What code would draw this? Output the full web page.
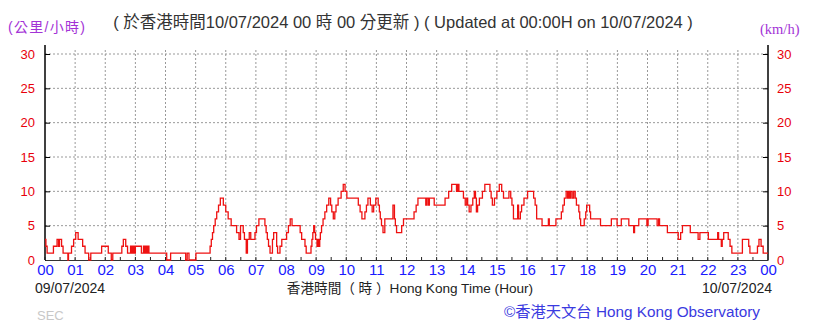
<!DOCTYPE html>
<html>
<head>
<meta charset="utf-8">
<script src="https://cdn.jsdelivr.net/npm/d3@7"></script>
<style>
	body { margin: 0; background: #fff; }
	svg { display: block; font-family: "Liberation Sans", "Noto Sans CJK TC", sans-serif; }
</style>
</head>
<body>
<div id="chart"></div>
<script>
//////////////////////////// data /////////////////////////////////////////

// hours since 00:00 on 09/07/2024, when the mean wind changed
const hours = [
	0.00, 0.03, 0.07, 0.28, 0.40, 0.45, 0.48, 0.55, 0.60, 0.76, 0.78, 0.88, 0.95, 1.02, 1.10, 1.25, 1.33, 1.45, 1.52, 1.88,
	2.10, 2.20, 2.25, 2.55, 2.60, 2.68, 2.74, 2.84, 2.88, 2.92, 2.96, 3.00, 3.20, 3.27, 3.29, 3.33, 3.35, 3.38, 3.40, 3.43,
	3.45, 4.04, 4.17, 4.67, 4.72, 4.78, 5.01, 5.48, 5.52, 5.56, 5.60, 5.65, 5.70, 5.76, 5.82, 5.92, 6.00, 6.08, 6.18, 6.36,
	6.44, 6.49, 6.58, 6.62, 6.68, 6.72, 6.78, 6.83, 6.97, 7.02, 7.10, 7.30, 7.34, 7.38, 7.42, 7.47, 7.55, 7.59, 7.69, 7.72,
	7.80, 7.86, 8.02, 8.08, 8.14, 8.20, 8.47, 8.52, 8.63, 8.67, 8.83, 8.86, 8.89, 8.92, 8.95, 8.98, 9.03, 9.06, 9.09, 9.12,
	9.14, 9.18, 9.23, 9.29, 9.35, 9.42, 9.48, 9.52, 9.57, 9.62, 9.66, 9.73, 9.83, 9.90, 9.96, 10.02, 10.40, 10.46, 10.52, 10.62,
	10.67, 10.72, 10.80, 10.86, 10.91, 10.98, 11.06, 11.10, 11.13, 11.17, 11.22, 11.28, 11.55, 11.60, 11.63, 11.67, 11.84, 11.90, 12.25, 12.32,
	12.38, 12.64, 12.67, 12.72, 12.76, 12.92, 13.28, 13.40, 13.50, 13.66, 13.70, 13.74, 13.89, 13.95, 14.00, 14.03, 14.08, 14.14, 14.20, 14.25,
	14.29, 14.32, 14.36, 14.42, 14.52, 14.60, 14.77, 14.81, 14.85, 14.92, 15.00, 15.08, 15.16, 15.22, 15.40, 15.46, 15.50, 15.55, 15.69, 15.72,
	15.78, 15.82, 15.90, 16.02, 16.22, 16.27, 16.32, 16.50, 16.71, 16.74, 16.96, 17.14, 17.19, 17.24, 17.30, 17.35, 17.38, 17.42, 17.45, 17.50,
	17.55, 17.60, 17.64, 17.72, 17.75, 17.78, 17.90, 17.95, 17.98, 18.08, 18.11, 18.44, 18.80, 18.99, 19.13, 19.38, 19.54, 19.57, 19.71, 19.98,
	20.02, 20.32, 20.37, 20.40, 20.66, 21.02, 21.10, 21.16, 21.42, 21.68, 21.74, 22.02, 22.33, 22.36, 22.45, 22.48, 22.53, 22.68, 22.74, 22.80,
	23.15, 23.36, 23.40, 23.65, 23.70, 23.77, 23.84, 24.00
];

// 10-minute mean wind speed (km/h)
const speeds = [
	3, 2, 1, 2, 3, 2, 3, 2, 1, 0, 1, 2, 3, 4, 3, 2, 1, 0, 1, 2,
	1, 0, 1, 2, 3, 2, 1, 2, 1, 2, 1, 2, 1, 2, 1, 2, 1, 2, 1, 2,
	1, 0, 1, 0, 1, 0, 1, 2, 3, 4, 5, 6, 7, 8, 9, 8, 7, 6, 5, 4,
	3, 5, 4, 3, 1, 3, 4, 3, 4, 5, 6, 5, 4, 3, 2, 1, 3, 4, 2, 1,
	2, 3, 4, 5, 6, 5, 4, 3, 2, 1, 2, 3, 4, 5, 4, 3, 2, 3, 2, 3,
	4, 5, 6, 7, 8, 9, 8, 7, 6, 7, 8, 9, 10, 11, 10, 9, 8, 7, 6, 7,
	8, 9, 8, 7, 8, 9, 8, 7, 6, 5, 4, 6, 8, 6, 5, 4, 5, 6, 7, 8,
	9, 8, 9, 8, 9, 8, 9, 10, 11, 10, 11, 10, 9, 8, 9, 8, 7, 8, 9, 10,
	9, 7, 8, 9, 10, 11, 10, 9, 8, 9, 10, 11, 10, 9, 10, 9, 8, 6, 8, 6,
	7, 8, 9, 10, 9, 8, 6, 5, 6, 5, 6, 7, 8, 9, 10, 9, 10, 9, 10, 9,
	10, 9, 8, 7, 6, 5, 6, 7, 8, 7, 6, 5, 6, 5, 6, 5, 4, 5, 6, 5,
	6, 5, 6, 5, 4, 3, 4, 5, 4, 3, 4, 3, 4, 3, 2, 3, 4, 3, 2, 1,
	3, 2, 1, 2, 3, 2, 1, 1
];

const hourTicks = d3.range(0, 25);
const hourLabels = hourTicks.map((h) => String(h % 24).padStart(2, "0"));
const speedTicks = [0, 5, 10, 15, 20, 25, 30];

const titleText = "( 於香港時間10/07/2024 00 時 00 分更新 ) ( Updated at 00:00H on 10/07/2024 )";
const unitLeft = "(公里/小時)";
const unitRight = "(km/h)";
const startDate = "09/07/2024";
const endDate = "10/07/2024";
const axisTitle = "香港時間（ 時 ）Hong Kong Time (Hour)";
const credit = "©香港天文台 Hong Kong Observatory";
const station = "SEC";

//////////////////////////// drawing function /////////////////////////////

const createChart = () => {
	const data = hours.map((h, i) => ({ hour: h, speed: speeds[i] }));

	const xAccessor = (d) => d.hour;
	const yAccessor = (d) => d.speed;

	let dimensions = {
		width: 819,
		height: 323,
		margin: { top: 54, right: 51, bottom: 63, left: 45 }
	};
	dimensions.boundedWidth =
		dimensions.width - dimensions.margin.left - dimensions.margin.right;
	dimensions.boundedHeight =
		dimensions.height - dimensions.margin.top - dimensions.margin.bottom;

	const wrapper = d3
		.select("#chart")
		.append("svg")
		.attr("width", dimensions.width)
		.attr("height", dimensions.height);

	const bounds = wrapper
		.append("g")
		.attr(
			"transform",
			`translate(${dimensions.margin.left},${dimensions.margin.top})`
		);

	//////////////////////////// scales ///////////////////////////////////////

	const xScale = d3
		.scaleLinear()
		.domain([0, 24])
		.range([0, dimensions.boundedWidth]);

	const yScale = d3
		.scaleLinear()
		.domain([0, 30])
		.range([dimensions.boundedHeight, 0]);

	//////////////////////////// grid /////////////////////////////////////////

	const grid = bounds.append("g").attr("class", "grid");

	grid
		.selectAll(".vgrid")
		.data(hourTicks.slice(1, -1))
		.join("line")
		.attr("x1", (d) => xScale(d))
		.attr("x2", (d) => xScale(d))
		.attr("y1", yScale(30) - 4)
		.attr("y2", dimensions.boundedHeight)
		.attr("stroke", "#999")
		.attr("stroke-dasharray", "2,2");

	grid
		.selectAll(".hgrid")
		.data(speedTicks.slice(1))
		.join("line")
		.attr("x1", 0)
		.attr("x2", dimensions.boundedWidth)
		.attr("y1", (d) => yScale(d))
		.attr("y2", (d) => yScale(d))
		.attr("stroke", "#999")
		.attr("stroke-dasharray", "2,2");

	//////////////////////////// axes /////////////////////////////////////////

	const yAxisLeft = d3
		.axisLeft(yScale)
		.tickValues(speedTicks)
		.tickSize(-5)
		.tickPadding(10);

	const yAxisRight = d3
		.axisRight(yScale)
		.tickValues(speedTicks)
		.tickSize(-5)
		.tickPadding(9);

	const leftAxis = bounds.append("g").call(yAxisLeft);
	const rightAxis = bounds
		.append("g")
		.attr("transform", `translate(${dimensions.boundedWidth},0)`)
		.call(yAxisRight);

	[leftAxis, rightAxis].forEach((ax) => {
		ax.select(".domain").remove();
		ax.selectAll("line").attr("stroke", "#000");
		ax.selectAll("text")
			.attr("fill", "#e8000b")
			.style("font-size", "13px")
			.style("font-family", "'Liberation Sans', sans-serif");
	});

	// vertical axis lines, a little taller than the 30 line
	[0, dimensions.boundedWidth].forEach((x) => {
		bounds
			.append("line")
			.attr("x1", x)
			.attr("x2", x)
			.attr("y1", yScale(30) - 9)
			.attr("y2", dimensions.boundedHeight)
			.attr("stroke", "#000")
			.attr("stroke-width", 1.5);
	});

	const xAxisGenerator = d3
		.axisBottom(xScale)
		.tickValues(hourTicks)
		.tickSize(0)
		.tickPadding(4)
		.tickFormat((d, i) => hourLabels[i]);

	const xAxis = bounds
		.append("g")
		.attr("transform", `translate(0,${dimensions.boundedHeight})`)
		.call(xAxisGenerator);

	xAxis.select(".domain").attr("stroke", "#333");
	xAxis
		.selectAll("text")
		.attr("fill", "#1a1aff")
		.style("font-size", "15px")
		.style("font-family", "'Liberation Sans', sans-serif");

	// small half-hour marks along the bottom
	bounds
		.append("g")
		.selectAll("line")
		.data(d3.range(0, 48).map((d) => d / 2))
		.join("line")
		.attr("x1", (d) => xScale(d))
		.attr("x2", (d) => xScale(d))
		.attr("y1", dimensions.boundedHeight - 3)
		.attr("y2", dimensions.boundedHeight)
		.attr("stroke", "#222");

	//////////////////////////// plot /////////////////////////////////////////

	const lineGenerator = d3
		.line()
		.x((d) => xScale(xAccessor(d)))
		.y((d) => yScale(yAccessor(d)))
		.curve(d3.curveStepAfter);

	bounds
		.append("path")
		.datum(data)
		.attr("d", lineGenerator)
		.attr("fill", "none")
		.attr("stroke", "#ee1111")
		.attr("stroke-width", 1.3);

	//////////////////////////// texts ////////////////////////////////////////

	wrapper
		.append("text")
		.attr("x", 403)
		.attr("y", 28)
		.attr("text-anchor", "middle")
		.attr("fill", "#333")
		.style("font-size", "16.5px")
		.text(titleText);

	wrapper
		.append("text")
		.attr("x", 8)
		.attr("y", 32)
		.attr("fill", "#a333d6")
		.style("font-size", "14px")
		.style("letter-spacing", "1.3px")
		.text(unitLeft);

	wrapper
		.append("text")
		.attr("x", 760)
		.attr("y", 34)
		.attr("fill", "#a333d6")
		.style("font-size", "14.5px")
		.style("font-family", "'Liberation Serif', serif")
		.text(unitRight);

	wrapper
		.append("text")
		.attr("x", 35)
		.attr("y", 293)
		.attr("fill", "#222")
		.style("font-size", "14px")
		.text(startDate);

	wrapper
		.append("text")
		.attr("x", 772)
		.attr("y", 293)
		.attr("text-anchor", "end")
		.attr("fill", "#222")
		.style("font-size", "14px")
		.text(endDate);

	wrapper
		.append("text")
		.attr("x", 410)
		.attr("y", 293)
		.attr("text-anchor", "middle")
		.attr("fill", "#222")
		.style("font-size", "13.6px")
		.text(axisTitle);

	wrapper
		.append("text")
		.attr("x", 760)
		.attr("y", 317)
		.attr("text-anchor", "end")
		.attr("fill", "#3a3ae0")
		.style("font-size", "15.3px")
		.text(credit);

	wrapper
		.append("text")
		.attr("x", 37)
		.attr("y", 320)
		.attr("fill", "#c8c8c8")
		.style("font-size", "13px")
		.text(station);
};

createChart();
</script>
</body>
</html>
